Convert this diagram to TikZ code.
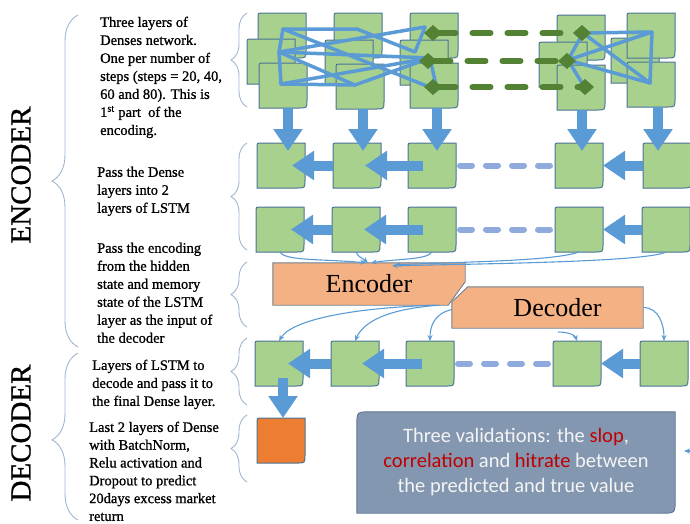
\documentclass[tikz,border=0pt]{standalone}
\usepackage{fontspec}
\setmainfont{Liberation Serif}
\newfontfamily\heavyserif{Liberation Serif}[BoldFont={Liberation Serif}, BoldFeatures={FakeBold=0.9}]
\newfontfamily\calib{Carlito}
\usetikzlibrary{arrows.meta,decorations.pathreplacing,backgrounds}
\definecolor{gfill}{HTML}{A9D18E}
\definecolor{bline}{HTML}{4A7397}
\definecolor{ablue}{HTML}{5B9BD5}
\definecolor{lblue}{HTML}{8FAADC}
\definecolor{dgreen}{HTML}{548235}
\definecolor{ofill}{HTML}{F4B183}
\definecolor{oline}{HTML}{6F8294}
\definecolor{ofinal}{HTML}{ED7D31}
\definecolor{vfill}{HTML}{8497B0}
\definecolor{vline}{HTML}{5B7594}
\definecolor{vred}{HTML}{C00000}
\definecolor{vtext}{HTML}{F4F4F4}
\definecolor{brc}{HTML}{9FB6CE}
\newcommand{\cellbox}[4]{%
  \node[cellnode, anchor=north west] (#1) at (#2,#3) {};
  \draw[cellline, fill=#4] (#1.south west) -- ([yshift=-5pt]#1.north west)
    .. controls (#1.north west) .. ([xshift=5pt]#1.north west) -- (#1.north east)
    -- ([yshift=8pt]#1.south east) .. controls (#1.south east) .. ([xshift=-8pt]#1.south east) -- cycle;
}
\tikzset{
  cellnode/.style={minimum width=48pt, minimum height=45pt, inner sep=0pt, outer sep=0pt},
  cellline/.style={draw=bline, line width=1pt},
  blockarrow/.style={draw=ablue, line width=10pt, -{Triangle[width=28pt,length=22pt]}},
  thinarrow/.style={draw=ablue, line width=1.1pt, -{Stealth[length=6pt,width=5pt]}},
  netline/.style={draw=ablue, line width=3.5pt, line cap=round, line join=round},
  gdash/.style={draw=dgreen, line width=6pt, line cap=round, dash pattern=on 18pt off 17pt,
     {Diamond[width=16pt,length=18pt]}-{Diamond[width=16pt,length=18pt]}},
  bdash/.style={draw=lblue, line width=6pt, line cap=round, dash pattern=on 12pt off 14pt},
  brstyle/.style={draw=brc, line width=0.9pt, decorate},
  lefttext/.style={align=left, anchor=north west, inner sep=0pt, font=\heavyserif\bfseries\fontsize{14.5}{18}\selectfont},
  sidelabel/.style={rotate=90, font=\heavyserif\bfseries\fontsize{29}{29}\selectfont},
  codebox/.style={draw=oline, line width=0.9pt, fill=ofill}
}
\begin{document}
\begin{tikzpicture}[x=1pt,y=-1pt]
\useasboundingbox (0,0) rectangle (690,523);

% side labels
\node[sidelabel] (enclabel) at (21,175) {ENCODER};
\node[sidelabel] (declabel) at (21,433) {DECODER};

% braces
\draw[brstyle, decoration={brace, amplitude=26pt, aspect=0.5}] (78,347) -- (78,15);
\draw[brstyle, decoration={brace, amplitude=26pt, aspect=0.48}] (78,520) -- (78,353);
\draw[brstyle, decoration={brace, amplitude=16pt, aspect=0.5}] (247,107) -- (247,13);
\draw[brstyle, decoration={brace, amplitude=16pt, aspect=0.5}] (247,250) -- (247,143);
\draw[brstyle, decoration={brace, amplitude=16pt, aspect=0.5}] (247,327) -- (247,262);
\draw[brstyle, decoration={brace, amplitude=16pt, aspect=0.5}] (247,405) -- (247,338);
\draw[brstyle, decoration={brace, amplitude=16pt, aspect=0.5}] (247,482) -- (247,415);

% texts
\node[lefttext] (t1) at (100,16.5) {Three layers of\\Denses network.\\One per number of\\steps (steps = 20, 40,\\60 and 80). This is\\1\textsuperscript{st} part\ \ of the\\encoding.};
\node[lefttext] (t2) at (97,166.5) {Pass the Dense\\layers into 2\\layers of LSTM};
\node[lefttext] (t3) at (97,242.5) {Pass the encoding\\from the hidden\\state and memory\\state of the LSTM\\layer as the input of\\the decoder};
\node[lefttext] (t4) at (92,359.5) {Layers of LSTM to\\decode and pass it to\\the final Dense layer.};
\node[lefttext, font=\heavyserif\bfseries\fontsize{14.5}{17.8}\selectfont] (t5) at (89,421.5) {Last 2 layers of Dense\\with BatchNorm,\\Relu activation and\\Dropout to predict\\20days excess market\\return};

% dense layers
\cellbox{d11}{258}{13}{gfill} \cellbox{d12}{247}{39}{gfill} \cellbox{d13}{259}{63}{gfill}
\cellbox{d21}{334}{13}{gfill} \cellbox{d22}{325}{40}{gfill} \cellbox{d23}{336}{64}{gfill}
\cellbox{d31}{410}{13}{gfill} \cellbox{d32}{400}{40}{gfill} \cellbox{d33}{410}{63}{gfill}
\cellbox{d41}{557}{15}{gfill} \cellbox{d42}{539}{42}{gfill} \cellbox{d43}{557}{65}{gfill}
\cellbox{d52}{611}{38}{gfill} \cellbox{d51}{627}{13}{gfill} \cellbox{d53}{627}{62}{gfill}

% network connections
\coordinate (A1) at (283,29); \coordinate (A2) at (279,52); \coordinate (A3) at (281,84);
\coordinate (B1) at (357,29); \coordinate (B3) at (355,85);
\coordinate (C1) at (425,27); \coordinate (C2) at (430,58); \coordinate (C3) at (437,90); \coordinate (C4) at (415,52);
\coordinate (D1) at (583,33); \coordinate (D2) at (568,60); \coordinate (D3) at (585,88);
\coordinate (E1) at (652,32); \coordinate (E3) at (650,83);
\draw[netline] (A1) -- (B1) -- (C4) -- (C1) -- (A2);
\draw[netline] (A1) -- (A2) -- (A3);
\draw[netline] (A2) -- (C2) -- (C3) -- (A1);
\draw[netline] (A3) -- (C2);
\draw[netline] (A2) -- (B3) -- (C2);
\draw[netline] (A3) -- (B3);
\draw[netline] (D1) -- (E1) -- (D2) -- (D1);
\draw[netline] (D2) -- (D3);
\draw[netline] (D1) -- (E3) -- (E1);
\draw[netline] (D2) -- (E3);

% green dashed links
\coordinate (g1L) at (424,33); \coordinate (g1R) at (591,33);
\coordinate (g2L) at (419,61); \coordinate (g2R) at (576,61);
\coordinate (g3L) at (424,87); \coordinate (g3R) at (594,87);
\draw[gdash] (g1L) -- (g1R);
\draw[gdash] (g2L) -- (g2R);
\draw[gdash] (g3L) -- (g3R);

% LSTM layer 1
\cellbox{e1}{257}{143}{gfill} \cellbox{e2}{333}{143}{gfill} \cellbox{e3}{408}{143}{gfill}
\cellbox{e4}{555}{143}{gfill} \cellbox{e5}{643}{143}{gfill}
% LSTM layer 2
\cellbox{f1}{256}{207}{gfill} \cellbox{f2}{332}{207}{gfill} \cellbox{f3}{408}{207}{gfill}
\cellbox{f4}{555}{207}{gfill} \cellbox{f5}{642}{207}{gfill}

% down arrows
\draw[blockarrow] ([xshift=5pt]d13.south) -- ([xshift=7pt,yshift=-8pt]e1.north);
\draw[blockarrow] ([xshift=3pt]d23.south) -- ([xshift=6pt,yshift=-8pt]e2.north);
\draw[blockarrow] ([xshift=3pt]d33.south) -- ([xshift=5pt,yshift=-8pt]e3.north);
\draw[blockarrow] ([xshift=1pt]d43.south) -- ([xshift=3pt,yshift=-8pt]e4.north);
\draw[blockarrow] ([xshift=7pt]d53.south) -- ([xshift=-9pt,yshift=-8pt]e5.north);

% horizontal arrows
\draw[blockarrow] ([xshift=-9pt]e3.center) -- ([xshift=8pt]e2.center);
\draw[blockarrow] (e2.west) -- ([xshift=11pt]e1.center);
\draw[blockarrow] (e5.west) -- (e4.east);
\draw[bdash] ([xshift=4pt]e3.east) -- ([xshift=-4pt]e4.west);
\draw[blockarrow] ([xshift=-9pt]f3.center) -- ([xshift=8pt]f2.center);
\draw[blockarrow] (f2.west) -- ([xshift=11pt]f1.center);
\draw[blockarrow] (f5.west) -- (f4.east);
\draw[bdash] ([xshift=4pt]f3.east) -- ([xshift=-4pt]f4.west);

% encoder / decoder
\node[minimum width=192pt, minimum height=42pt, inner sep=0pt, font=\fontsize{26}{26}\selectfont] (enc) at (369,284) {Encoder};
\node[minimum width=191pt, minimum height=41pt, inner sep=0pt, font=\fontsize{26}{26}\selectfont] (dec) at (547.5,307.5) {\hspace*{20pt}Decoder};
\begin{scope}[on background layer]
\draw[codebox] (enc.north west) -- (enc.north east) -- ([yshift=-19pt]enc.north east)
   -- ([xshift=-17pt]enc.south east) -- (enc.south west) -- cycle;
\draw[codebox] ([yshift=-15pt]dec.north west) -- ([xshift=16pt]dec.north west) -- (dec.north east)
   -- (dec.south east) -- (dec.south west) -- cycle;
\end{scope}

\draw[thinarrow] (f1.south) .. controls +(5,9) and +(-45,-4) .. ([xshift=-3pt]enc.north);
\draw[thinarrow] (f2.south) .. controls +(2,5) and +(-6,-5) .. ([xshift=-1pt]enc.north);
\draw[thinarrow] (f3.south) .. controls +(-5,8) and +(25,-4) .. ([xshift=2pt]enc.north);
\draw[thinarrow] (f4.south) .. controls +(-25,9) and +(70,-3) .. ([xshift=26pt,yshift=-2pt]enc.north);
\draw[thinarrow] (f5.south) .. controls +(-20,10) and +(90,-2) .. ([xshift=23pt,yshift=-3pt]enc.north);

% decoder LSTM row
\cellbox{g1}{255}{341}{gfill} \cellbox{g2}{331}{341}{gfill} \cellbox{g3}{406}{341}{gfill}
\cellbox{g4}{553}{341}{gfill} \cellbox{g5}{640}{341}{gfill}
\draw[blockarrow] ([xshift=-8pt]g3.center) -- ([xshift=7pt]g2.center);
\draw[blockarrow] (g2.west) -- ([xshift=9pt]g1.center);
\draw[blockarrow] (g5.west) -- (g4.east);
\draw[bdash] ([xshift=4pt]g3.east) -- ([xshift=-4pt]g4.west);

\draw[thinarrow] ([xshift=-30pt]enc.south east) .. controls +(-90,3) and +(12,-20) .. (g1.north);
\draw[thinarrow] ([xshift=-26pt]enc.south east) .. controls +(-55,4) and +(8,-18) .. (g2.north);
\draw[thinarrow] ([yshift=-2pt]dec.west) .. controls +(-18,4) and +(0,-14) .. (g3.north);
\draw[thinarrow] (dec.east) .. controls +(16,0) and +(0,-16) .. (g5.north);
\draw[thinarrow] ([xshift=-19pt,yshift=9pt]g4.north) .. controls +(10,0) and +(-2,-6) .. (g4.north);

% final dense
\cellbox{out}{257}{418}{ofinal}
\draw[blockarrow] ([xshift=4pt,yshift=-14pt]g1.center) -- ([xshift=2pt]out.north);

% validation
\node[minimum width=318pt, minimum height=101pt, inner sep=0pt, align=center, text=vtext,
      font=\calib\fontsize{20.5}{25}\selectfont] (val) at (516,462.5)
  {Three validations: the \textcolor{vred}{slop},\\\textcolor{vred}{correlation} and \textcolor{vred}{hitrate} between\\the predicted and true value};
\begin{scope}[on background layer]
\draw[draw=vline, line width=0.9pt, fill=vfill] (val.south west) -- ([yshift=-14pt]val.north west)
   .. controls (val.north west) .. ([xshift=14pt]val.north west) -- (val.north east)
   -- ([yshift=14pt]val.south east) .. controls (val.south east) .. ([xshift=-14pt]val.south east) -- cycle;
\end{scope}
\coordinate (rin) at (697,451);
\coordinate (rtip) at (684,451);
\draw[thinarrow] (rin) -- (rtip);
\end{tikzpicture}
\end{document}
